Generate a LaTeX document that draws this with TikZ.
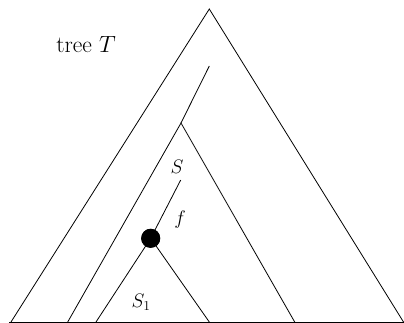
\RequirePackage{fix-cm}
\documentclass[tikz,border=0pt]{standalone}
\begin{document}
\begin{tikzpicture}[x=1pt,y=-1pt,
  edge/.style={line width=0.8pt},
  lbl/.style={inner sep=0pt,font=\fontsize{19.5}{22}\selectfont},
  dotnode/.style={circle,fill=black,minimum size=19pt,inner sep=0pt}]
\useasboundingbox (0,0) rectangle (404,323);
\coordinate (A) at (209.3,9);
\coordinate (BL) at (11,322);
\coordinate (BR) at (403.5,322);
\coordinate (L0) at (9,322);
\coordinate (R0) at (404,322);
\coordinate (P) at (209.3,66);
\coordinate (Sa) at (181,123);
\coordinate (SL) at (67.7,322);
\coordinate (SR) at (294.7,322);
\coordinate (F) at (180.7,180);
\coordinate (S1L) at (96,322);
\coordinate (S1R) at (209.3,322);
\draw[edge] (BL) -- (A) -- (BR);
\draw[edge] (L0) -- (R0);
\draw[edge] (P) -- (Sa);
\draw[edge] (SL) -- (Sa) -- (SR);
\node[dotnode] (d) at (150.7,238.3) {};
\draw[edge] (F) -- (d.center);
\draw[edge] (S1L) -- (d.center) -- (S1R);
\node[dotnode] at (d) {};
\node[lbl,font=\fontsize{23.5}{27}\selectfont] (t) at (86,45) {tree $T$};
\node[lbl] (s) at (177,167) {$S$};
\node[lbl] (f) at (180,220) {$f$};
\node[lbl] (s1) at (141,302) {$S_1$};
\end{tikzpicture}
\end{document}
